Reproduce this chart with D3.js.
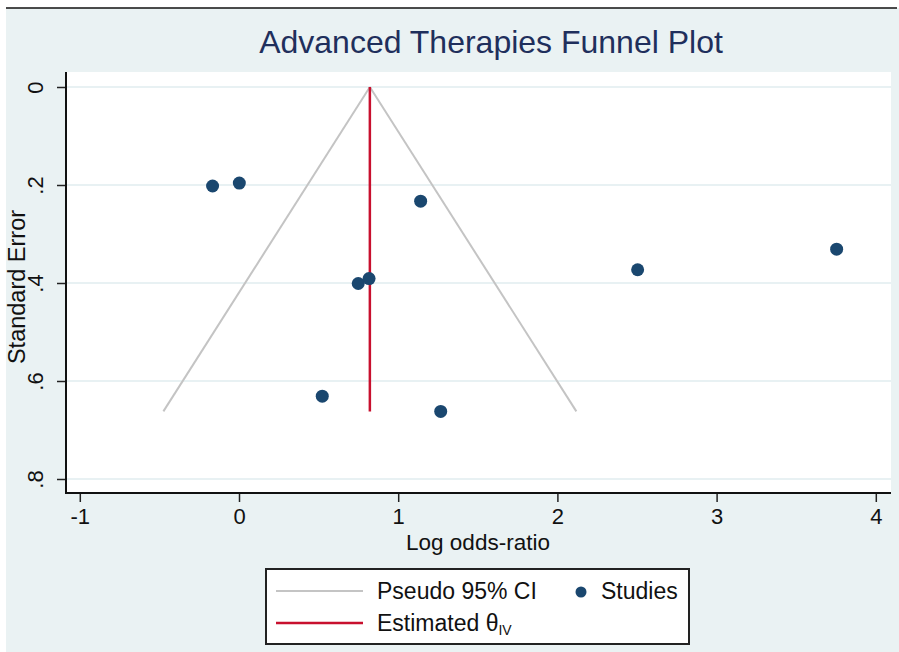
<!DOCTYPE html>
<html>
<head>
<meta charset="utf-8">
<script src="https://cdn.jsdelivr.net/npm/d3@7"></script>
<style>
	body { margin: 0; background: #fff; }
	svg { display: block; font-family: "Liberation Sans", Arial, sans-serif; }
</style>
</head>
<body>
<div id="chart"></div>
<script>
// studies: log odds-ratio and standard error
var logOdds = [-0.166, 0.002, 1.141, 0.749, 0.817, 0.523, 1.267, 2.504, 3.754];
var stdErr = [0.202, 0.196, 0.233, 0.401, 0.391, 0.631, 0.662, 0.373, 0.331];

// estimated theta (IV) and the pseudo 95% CI funnel
var theta = 0.822;
var funnelSe = [0, 0.662];
var funnelLeft = [0.822, -0.475];
var funnelRight = [0.822, 2.119];

var xTicks = [-1, 0, 1, 2, 3, 4];
var yTicks = [0, 0.2, 0.4, 0.6, 0.8];
var yTickLabels = ["0", ".2", ".4", ".6", ".8"];

var W = 899, H = 652;
var plot = { left: 66, right: 891, top: 72, bottom: 493 };

var svg = d3.select("#chart")
	.append("svg")
	.attr("width", W)
	.attr("height", H);

// background
svg.append("rect")
	.attr("x", 6).attr("y", 8)
	.attr("width", W - 6).attr("height", H - 8)
	.attr("fill", "#eaf2f3");
svg.append("line")
	.attr("x1", 6).attr("x2", 897)
	.attr("y1", 8).attr("y2", 8)
	.attr("stroke", "#111").attr("stroke-width", 1.5);

// plot region
svg.append("rect")
	.attr("x", plot.left).attr("y", plot.top)
	.attr("width", plot.right - plot.left)
	.attr("height", plot.bottom - plot.top)
	.attr("fill", "#fff");

var x = d3.scaleLinear()
	.domain([-1, 4])
	.range([79.8, 875.8]);

var y = d3.scaleLinear()
	.domain([0, 0.8])
	.range([87, 479]);

// gridlines
svg.append("g")
	.selectAll("line")
	.data(yTicks)
	.enter()
	.append("line")
	.attr("x1", plot.left)
	.attr("x2", plot.right)
	.attr("y1", function(d) { return y(d); })
	.attr("y2", function(d) { return y(d); })
	.attr("stroke", "#e8f1f3")
	.attr("stroke-width", 2);

// title
svg.append("text")
	.attr("x", 491)
	.attr("y", 53)
	.attr("text-anchor", "middle")
	.style("font-size", "32px")
	.style("fill", "#1f2f5c")
	.text("Advanced Therapies Funnel Plot");

// X axis
var xAxis = svg.append("g")
	.attr("transform", "translate(0," + plot.bottom + ")")
	.call(d3.axisBottom(x).tickValues(xTicks).tickSize(9).tickPadding(5)
		.tickFormat(function(d) { return d; }));
xAxis.select(".domain").remove();
xAxis.selectAll("line").attr("stroke", "#222").attr("stroke-width", 1.5);
xAxis.selectAll("text")
	.style("font-size", "22px")
	.style("fill", "#111")
	.attr("dy", null)
	.attr("y", 31);

svg.append("line")
	.attr("x1", plot.left - 1).attr("x2", plot.right)
	.attr("y1", plot.bottom).attr("y2", plot.bottom)
	.attr("stroke", "#111").attr("stroke-width", 2);

svg.append("text")
	.attr("x", 478)
	.attr("y", 550)
	.attr("text-anchor", "middle")
	.style("font-size", "22.5px")
	.style("fill", "#111")
	.text("Log odds-ratio");

// Y axis
var yAxis = svg.append("g")
	.attr("transform", "translate(" + plot.left + ",0)")
	.call(d3.axisLeft(y).tickValues(yTicks).tickSize(9)
		.tickFormat(function(d, i) { return yTickLabels[i]; }));
yAxis.select(".domain").remove();
yAxis.selectAll("line").attr("stroke", "#222").attr("stroke-width", 1.5);
yAxis.selectAll("text")
	.style("font-size", "22px")
	.style("fill", "#111")
	.attr("x", null)
	.attr("dy", null)
	.attr("text-anchor", "middle")
	.attr("transform", "translate(-23,0) rotate(-90)");

svg.append("line")
	.attr("x1", plot.left).attr("x2", plot.left)
	.attr("y1", plot.top).attr("y2", plot.bottom)
	.attr("stroke", "#111").attr("stroke-width", 2);

svg.append("text")
	.attr("transform", "translate(25,287) rotate(-90)")
	.attr("text-anchor", "middle")
	.style("font-size", "23.5px")
	.style("fill", "#111")
	.text("Standard Error");

// funnel
var funnelLine = d3.line()
	.x(function(d) { return x(d[0]); })
	.y(function(d) { return y(d[1]); });

[funnelLeft, funnelRight].forEach(function(side) {
	svg.append("path")
		.datum(side.map(function(v, i) { return [v, funnelSe[i]]; }))
		.attr("d", funnelLine)
		.attr("fill", "none")
		.attr("stroke", "#c4c4c4")
		.attr("stroke-width", 2);
});

// estimated theta
svg.append("line")
	.attr("x1", x(theta)).attr("x2", x(theta))
	.attr("y1", y(funnelSe[0])).attr("y2", y(funnelSe[1]))
	.attr("stroke", "#c8102e")
	.attr("stroke-width", 2.5);

// studies
svg.append("g")
	.selectAll("circle")
	.data(logOdds)
	.enter()
	.append("circle")
	.attr("cx", function(d) { return x(d); })
	.attr("cy", function(d, i) { return y(stdErr[i]); })
	.attr("r", 6.5)
	.attr("fill", "#1a476f");

// legend
var legend = svg.append("g");
legend.append("rect")
	.attr("x", 266).attr("y", 569)
	.attr("width", 423).attr("height", 75)
	.attr("fill", "#fff")
	.attr("stroke", "#222")
	.attr("stroke-width", 2);

legend.append("line")
	.attr("x1", 276).attr("x2", 363)
	.attr("y1", 591).attr("y2", 591)
	.attr("stroke", "#c4c4c4").attr("stroke-width", 2);
legend.append("text")
	.attr("x", 377).attr("y", 599)
	.style("font-size", "23px").style("fill", "#111")
	.text("Pseudo 95% CI");

legend.append("circle")
	.attr("cx", 581).attr("cy", 592)
	.attr("r", 5.5)
	.attr("fill", "#1a476f");
legend.append("text")
	.attr("x", 601).attr("y", 599)
	.style("font-size", "23px").style("fill", "#111")
	.text("Studies");

legend.append("line")
	.attr("x1", 276).attr("x2", 363)
	.attr("y1", 623).attr("y2", 623)
	.attr("stroke", "#c8102e").attr("stroke-width", 2.5);
var est = legend.append("text")
	.attr("x", 377).attr("y", 631)
	.style("font-size", "23px").style("fill", "#111");
est.append("tspan").text("Estimated \u03b8");
est.append("tspan")
	.attr("dy", 4)
	.style("font-size", "14px")
	.text("IV");
</script>
</body>
</html>
